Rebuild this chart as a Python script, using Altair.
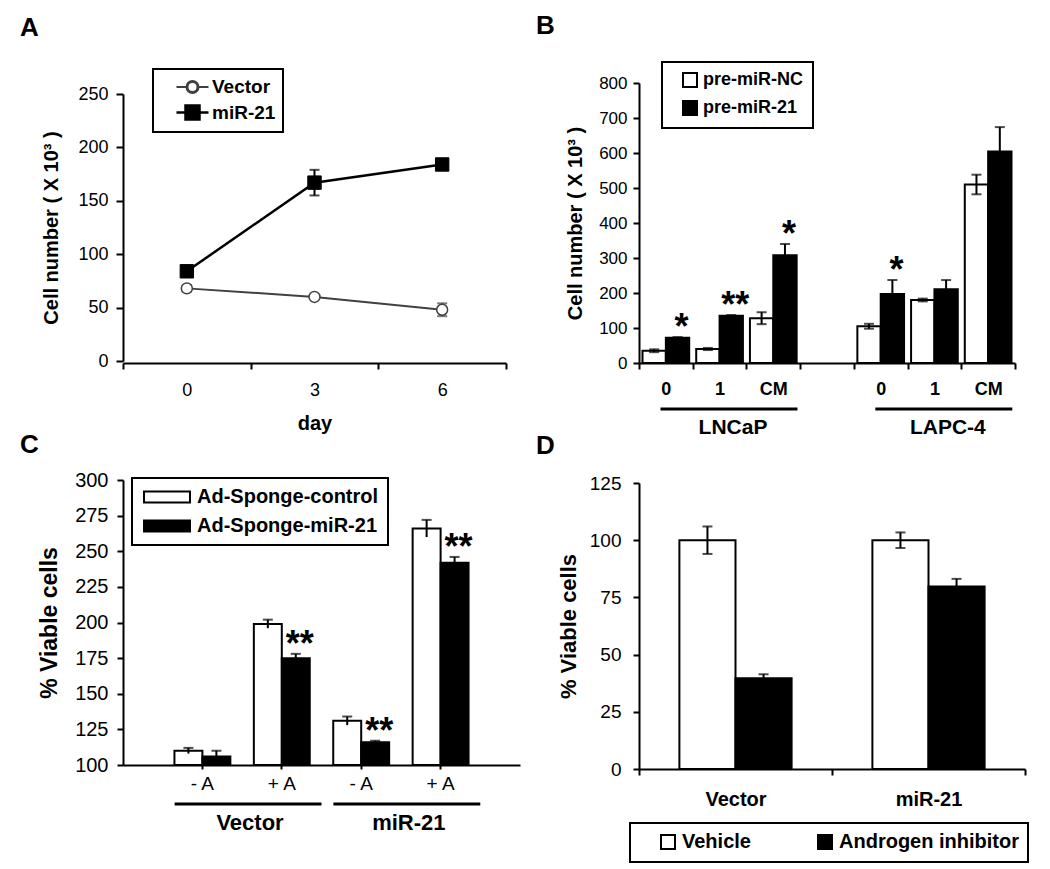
import altair as alt
import pandas as pd

FONT = "Liberation Sans"

# ---------------- Panel A data ----------------
a_days = ["0", "3", "6"]
a_series = ["Vector", "miR-21"]
a_vector_mean = [68, 60, 48]
a_vector_err = [3, 2, 6]
a_mir_mean = [84, 167, 184]
a_mir_err = [3, 12, 3]
a_yticks = [0, 50, 100, 150, 200, 250]

# ---------------- Panel B data ----------------
b_cells = ["LNCaP", "LAPC-4"]
b_conditions = ["0", "1", "CM"]
b_series = ["pre-miR-NC", "pre-miR-21"]
b_nc_mean = [35, 40, 128, 105, 180, 510]
b_nc_err = [4, 3, 17, 7, 4, 28]
b_mir_mean = [72, 135, 308, 197, 211, 604]
b_mir_err = [2, 2, 32, 40, 26, 70]
b_stars = ["*", "**", "*", "*", "", ""]
b_yticks = [0, 100, 200, 300, 400, 500, 600, 700, 800]

# ---------------- Panel C data ----------------
c_genotypes = ["Vector", "miR-21"]
c_treatments = ["- A", "+ A"]
c_series = ["Ad-Sponge-control", "Ad-Sponge-miR-21"]
c_ctrl_mean = [110, 199, 131, 266]
c_ctrl_err = [2, 3, 3, 6]
c_sponge_mean = [106, 175, 116, 242]
c_sponge_err = [4, 3, 1, 4]
c_stars = ["", "**", "**", "**"]
c_yticks = [100, 125, 150, 175, 200, 225, 250, 275, 300]

# ---------------- Panel D data ----------------
d_groups = ["Vector", "miR-21"]
d_series = ["Vehicle", "Androgen inhibitor"]
d_vehicle_mean = [100, 100]
d_vehicle_err = [6, 3.4]
d_inhib_mean = [39.7, 79.8]
d_inhib_err = [1.7, 3.3]
d_yticks = [0, 25, 50, 75, 100, 125]


def letter(txt, dy):
    return alt.TitleParams(txt, anchor="start", frame="group", dx=-103, offset=0, dy=dy,
                           fontSize=26, fontWeight="bold", font=FONT, color="black",
                           baseline="alphabetic")


def xfield(field, scale, axis, bp=None):
    if bp is None:
        return alt.X(field, scale=scale, axis=axis)
    return alt.X(field, scale=scale, axis=axis, bandPosition=bp)


def box_legend(x, y, size, pad, row_pad, sym_off, lab_off, lab_size, **kw):
    return alt.Legend(orient="none", legendX=x, legendY=y, title=None,
                      labelFontSize=lab_size, labelFontWeight="bold", labelFont=FONT,
                      labelColor="black", labelLimit=400,
                      strokeColor="black", padding=pad, rowPadding=row_pad,
                      symbolOffset=sym_off, labelOffset=lab_off, symbolSize=size,
                      symbolStrokeWidth=2, symbolOpacity=1, **kw)


# =============== Panel A ===============
rowsA = []
for s, means, errs in [(a_series[0], a_vector_mean, a_vector_err),
                       (a_series[1], a_mir_mean, a_mir_err)]:
    for d, m, e in zip(a_days, means, errs):
        rowsA.append(dict(day=d, series=s, mean=m, lo=m - e, hi=m + e))
dfA = pd.DataFrame(rowsA)

scaleAx = alt.Scale(type="band", domain=a_days, paddingInner=0, paddingOuter=0)
axisAx = alt.Axis(title="day", labelAngle=0, tickBand="extent", labelFontSize=18,
                  labelPadding=12, titleFontSize=20, titlePadding=14, tickSize=6)
scaleAy = alt.Scale(domain=[0, 250], range=[278, 11])
axisAy = alt.Axis(values=a_yticks, title="Cell number ( X 10³ )", labelFontSize=18,
                  labelPadding=8, tickSize=7, titleFontSize=20, titlePadding=16)


def yA(field):
    return alt.Y(field, scale=scaleAy, axis=axisAy)


# legend glyphs: line with open circle (ring) / line with filled square
PATH_V = ("M-1.6,0H-0.6M0.6,0H1.6"
          "M-0.6,0A0.6,0.6,0,1,1,0.6,0A0.6,0.6,0,1,1,-0.6,0Z"
          "M-0.5,0A0.5,0.5,0,1,0,0.5,0A0.5,0.5,0,1,0,-0.5,0Z")
PATH_M = "M-1.6,0H1.6M-0.7,-0.7H0.7V0.7H-0.7Z"
legA = box_legend(30, -14, 400, 7, 3, 21, 8, 19, direction="vertical")

xA = alt.X("day:N", scale=scaleAx, axis=axisAx)
colorA = alt.Color("series:N", scale=alt.Scale(domain=a_series, range=["#404040", "black"]), legend=legA)

baseA = alt.Chart(dfA)
linesA = baseA.mark_line().encode(
    x=xA, y=yA("mean:Q"), color=colorA,
    strokeWidth=alt.StrokeWidth("series:N", scale=alt.Scale(domain=a_series, range=[2, 2.5]), legend=None))
errA = baseA.mark_rule(strokeWidth=2).encode(x=xA, y=yA("lo:Q"), y2="hi:Q", color=colorA)
capHiA = baseA.mark_tick(thickness=2, size=10).encode(x=xA, y=yA("hi:Q"), color=colorA)
capLoA = baseA.mark_tick(thickness=2, size=10).encode(x=xA, y=yA("lo:Q"), color=colorA)
ptsV = baseA.transform_filter(alt.datum.series == a_series[0]).mark_point(
    shape="circle", filled=True, fill="white", stroke="#404040", strokeWidth=1.5,
    size=120, opacity=1).encode(x=xA, y=yA("mean:Q"))
ptsM = baseA.transform_filter(alt.datum.series == a_series[1]).mark_point(
    shape="square", filled=True, fill="black", stroke="black", strokeWidth=1,
    size=180, opacity=1).encode(x=xA, y=yA("mean:Q"))
legLayerA = baseA.mark_point(opacity=0, size=400, strokeWidth=2).encode(
    x=xA, y=yA("mean:Q"), color=colorA,
    shape=alt.Shape("series:N", scale=alt.Scale(domain=a_series, range=[PATH_V, PATH_M]), legend=legA),
    fill=alt.Fill("series:N", scale=alt.Scale(domain=a_series, range=["white", "black"]), legend=legA))

chartA = alt.layer(linesA, errA, capHiA, capLoA, ptsV, ptsM, legLayerA).properties(
    width=383, height=280, title=letter("A", -6))

# =============== Panel B ===============
keysL = [f"{b_cells[0]}|{c}" for c in b_conditions]
keysP = [f"{b_cells[1]}|{c}" for c in b_conditions]
domainB = keysL + ["gap|"] + keysP
dataKeysB = keysL + keysP
rowsB = []
starsB = []
for i, k in enumerate(dataKeysB):
    rowsB.append(dict(key=k, series=b_series[0], mean=b_nc_mean[i],
                      lo=b_nc_mean[i] - b_nc_err[i], hi=b_nc_mean[i] + b_nc_err[i]))
    rowsB.append(dict(key=k, series=b_series[1], mean=b_mir_mean[i],
                      lo=b_mir_mean[i] - b_mir_err[i], hi=b_mir_mean[i] + b_mir_err[i]))
    if b_stars[i]:
        starsB.append(dict(key=k, series=b_series[1], hi=b_mir_mean[i] + b_mir_err[i], star=b_stars[i]))
dfB = pd.DataFrame(rowsB)
dfBs = pd.DataFrame(starsB)
dfBg = pd.DataFrame(dict(start=[keysL[0], keysP[0]], end=[keysL[-1], keysP[-1]],
                         mid=[keysL[1], keysP[1]], label=b_cells))

scaleBx = alt.Scale(type="band", domain=domainB, paddingInner=0, paddingOuter=0)
axisBx = alt.Axis(title=None, labelExpr="split(datum.value, '|')[1]", tickBand="extent",
                  labelAngle=0, labelFontSize=18, labelFontWeight="bold", labelPadding=11,
                  tickSize=6)
xoB = alt.XOffset("series:N", scale=alt.Scale(domain=b_series, paddingInner=0, paddingOuter=0.15))
scaleBy = alt.Scale(domain=[0, 800])
axisBy = alt.Axis(values=b_yticks, title="Cell number ( X 10³ )", labelFontSize=17,
                  labelPadding=6, tickSize=6, titleFontSize=20, titlePadding=13)


def yB(field):
    return alt.Y(field, scale=scaleBy, axis=axisBy)


legB = box_legend(23, -21, 196, 9, 6, 10, 4, 18, direction="vertical",
                  symbolType="square", symbolStrokeColor="black")

barsB = alt.Chart(dfB).mark_bar(stroke="black", strokeWidth=2).encode(
    x=xfield("key:N", scaleBx, axisBx), xOffset=xoB, y=yB("mean:Q"),
    fill=alt.Fill("series:N", scale=alt.Scale(domain=b_series, range=["white", "black"]), legend=legB))
errB = alt.Chart(dfB).mark_rule(strokeWidth=2, color="black").encode(
    x=xfield("key:N", scaleBx, axisBx), xOffset=xoB, y=yB("lo:Q"), y2="hi:Q")
capHiB = alt.Chart(dfB).mark_tick(thickness=2, size=10, color="black").encode(
    x=xfield("key:N", scaleBx, axisBx), xOffset=xoB, y=yB("hi:Q"))
capLoB = alt.Chart(dfB).mark_tick(thickness=2, size=10, color="black").encode(
    x=xfield("key:N", scaleBx, axisBx), xOffset=xoB, y=yB("lo:Q"))
starB = alt.Chart(dfBs).mark_text(fontSize=36, fontWeight="bold", baseline="alphabetic",
                                  dy=2, dx=4, color="black", font=FONT).encode(
    x=xfield("key:N", scaleBx, axisBx), xOffset=xoB, y=yB("hi:Q"), text="star:N")
lineB = alt.Chart(dfBg).mark_rule(strokeWidth=3, color="black").encode(
    x=xfield("start:N", scaleBx, axisBx, 0.4), x2=alt.X2("end:N", bandPosition=0.95), y=alt.value(326))
labB = alt.Chart(dfBg).mark_text(fontSize=21, fontWeight="bold", baseline="alphabetic",
                                 color="black", font=FONT).encode(
    x=xfield("mid:N", scaleBx, axisBx, 0.75), y=alt.value(351), text="label:N")

chartB = alt.layer(barsB, errB, capHiB, capLoB, starB, lineB, labB).properties(
    width=376, height=280, title=letter("B", -1))

# =============== Panel C ===============
keysC = [f"{g}|{t}" for g in c_genotypes for t in c_treatments]
rowsC = []
starsC = []
for i, k in enumerate(keysC):
    rowsC.append(dict(key=k, series=c_series[0], mean=c_ctrl_mean[i],
                      lo=c_ctrl_mean[i] - c_ctrl_err[i], hi=c_ctrl_mean[i] + c_ctrl_err[i]))
    rowsC.append(dict(key=k, series=c_series[1], mean=c_sponge_mean[i],
                      lo=c_sponge_mean[i] - c_sponge_err[i], hi=c_sponge_mean[i] + c_sponge_err[i]))
    if c_stars[i]:
        starsC.append(dict(key=k, series=c_series[1], hi=c_sponge_mean[i] + c_sponge_err[i], star=c_stars[i]))
dfC = pd.DataFrame(rowsC)
dfCs = pd.DataFrame(starsC)
dfCg = pd.DataFrame(dict(start=[keysC[0], keysC[2]], end=[keysC[1], keysC[3]],
                         mid=[keysC[1], keysC[3]], label=c_genotypes))

scaleCx = alt.Scale(type="band", domain=keysC, paddingInner=0, paddingOuter=0.5)
axisCx = alt.Axis(title=None, labelExpr="split(datum.value, '|')[1]", labelAngle=0,
                  labelFontSize=19, labelPadding=5, tickSize=4)
xoC = alt.XOffset("series:N", scale=alt.Scale(domain=c_series, paddingInner=0, paddingOuter=0.42))
scaleCy = alt.Scale(domain=[100, 300])
axisCy = alt.Axis(values=c_yticks, title="% Viable cells", labelFontSize=20,
                  labelPadding=9, tickSize=6, titleFontSize=23, titlePadding=13)


def yC(field):
    return alt.Y(field, scale=scaleCy, axis=axisCy)


PATH_RECT = "M-3.83,-0.92H3.83V0.92H-3.83Z"
legC = box_legend(9, -2, 144, 9, 9, 16, 20, 20, direction="vertical",
                  symbolType=PATH_RECT, symbolStrokeColor="black")

barsC = alt.Chart(dfC).mark_bar(stroke="black", strokeWidth=2).encode(
    x=xfield("key:N", scaleCx, axisCx), xOffset=xoC, y=yC("mean:Q"), y2=alt.datum(100),
    fill=alt.Fill("series:N", scale=alt.Scale(domain=c_series, range=["white", "black"]), legend=legC))
errC = alt.Chart(dfC).mark_rule(strokeWidth=2, color="black").encode(
    x=xfield("key:N", scaleCx, axisCx), xOffset=xoC, y=yC("lo:Q"), y2="hi:Q")
capHiC = alt.Chart(dfC).mark_tick(thickness=2, size=10, color="black").encode(
    x=xfield("key:N", scaleCx, axisCx), xOffset=xoC, y=yC("hi:Q"))
starC = alt.Chart(dfCs).mark_text(fontSize=36, fontWeight="bold", baseline="alphabetic",
                                  dy=2, dx=4, color="black", font=FONT).encode(
    x=xfield("key:N", scaleCx, axisCx), xOffset=xoC, y=yC("hi:Q"), text="star:N")
lineC = alt.Chart(dfCg).mark_rule(strokeWidth=3, color="black").encode(
    x=xfield("start:N", scaleCx, axisCx, 0.15), x2=alt.X2("end:N", bandPosition=1.0), y=alt.value(324))
labC = alt.Chart(dfCg).mark_text(fontSize=22, fontWeight="bold", baseline="alphabetic",
                                 color="black", font=FONT).encode(
    x=xfield("mid:N", scaleCx, axisCx, 0.1), y=alt.value(350), text="label:N")

chartC = alt.layer(barsC, errC, capHiC, starC, lineC, labC).properties(
    width=397, height=285, title=letter("C", 9))

# =============== Panel D ===============
rowsD = []
for i, g in enumerate(d_groups):
    rowsD.append(dict(grp=g, series=d_series[0], mean=d_vehicle_mean[i],
                      lo=d_vehicle_mean[i] - d_vehicle_err[i], hi=d_vehicle_mean[i] + d_vehicle_err[i]))
    rowsD.append(dict(grp=g, series=d_series[1], mean=d_inhib_mean[i],
                      lo=d_inhib_mean[i] - d_inhib_err[i], hi=d_inhib_mean[i] + d_inhib_err[i]))
dfD = pd.DataFrame(rowsD)

scaleDx = alt.Scale(type="band", domain=d_groups, paddingInner=0, paddingOuter=0)
axisDx = alt.Axis(title=None, labelAngle=0, tickBand="extent", labelFontSize=20,
                  labelFontWeight="bold", labelPadding=14, tickSize=6)
xD = alt.X("grp:N", scale=scaleDx, axis=axisDx)
xoD = alt.XOffset("series:N", scale=alt.Scale(domain=d_series, paddingInner=0, paddingOuter=0.72))
scaleDy = alt.Scale(domain=[0, 125], range=[289, 3])
axisDy = alt.Axis(values=d_yticks, title="% Viable cells", labelFontSize=19,
                  labelPadding=12, tickSize=6, titleFontSize=22, titlePadding=9)


def yD(field):
    return alt.Y(field, scale=scaleDy, axis=axisDy)


legD = box_legend(-9, 343, 196, 9, 0, 19, 4, 20, direction="horizontal",
                  columnPadding=45, symbolType="square", symbolStrokeColor="black")

barsD = alt.Chart(dfD).mark_bar(stroke="black", strokeWidth=2).encode(
    x=xD, xOffset=xoD, y=yD("mean:Q"),
    fill=alt.Fill("series:N", scale=alt.Scale(domain=d_series, range=["white", "black"]), legend=legD))
errD = alt.Chart(dfD).mark_rule(strokeWidth=2, color="black").encode(
    x=xD, xOffset=xoD, y=yD("lo:Q"), y2="hi:Q")
capHiD = alt.Chart(dfD).mark_tick(thickness=2, size=10, color="black").encode(
    x=xD, xOffset=xoD, y=yD("hi:Q"))
capLoD = alt.Chart(dfD).mark_tick(thickness=2, size=10, color="black").encode(
    x=xD, xOffset=xoD, y=yD("lo:Q"))

chartD = alt.layer(barsD, errD, capHiD, capLoD).properties(
    width=386, height=289, title=letter("D", 5.5))

# =============== Assemble ===============
chart = alt.concat(chartA, chartB, chartC, chartD, columns=2,
                   spacing={"row": 117, "column": 119}, bounds="flush", align="each").resolve_scale(
    x="independent", y="independent", xOffset="independent", fill="independent",
    color="independent", shape="independent", size="independent", strokeWidth="independent"
).resolve_legend(
    fill="independent", color="independent", shape="independent"
).properties(
    padding={"left": 12, "top": 5, "right": 5, "bottom": 5}
).configure_view(stroke=None).configure_axis(
    domainColor="black", domainWidth=2, tickColor="black", tickWidth=2,
    labelColor="black", labelFont=FONT, titleFont=FONT, titleColor="black",
    titleFontWeight="bold", grid=False
).configure_legend(strokeWidth=2).configure_text(font=FONT)

chart.save("out.html", embed_options={"renderer": "svg", "actions": False})
